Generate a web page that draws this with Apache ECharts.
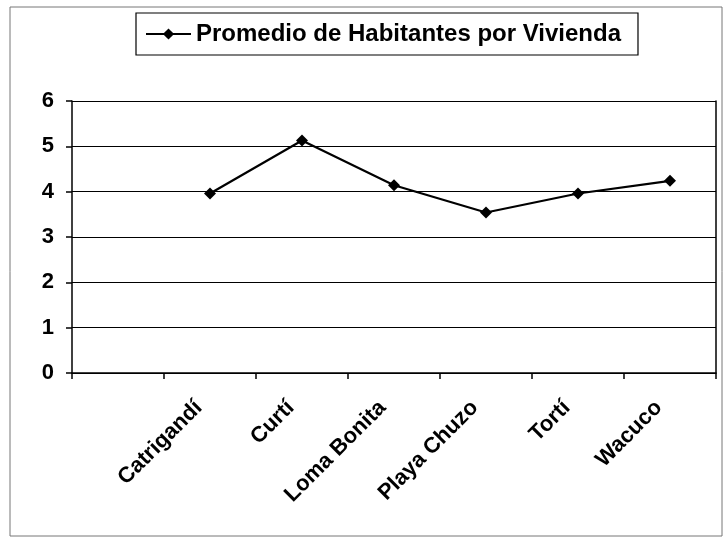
<!DOCTYPE html>
<html>
<head>
<meta charset="utf-8">
<script src="https://cdn.jsdelivr.net/npm/echarts@6/dist/echarts.min.js"></script>
<style>
  html, body { margin: 0; padding: 0; background: #fff; }
  #chart { width: 725px; height: 543px; }
</style>
</head>
<body>
<div id="chart"></div>
<script>
// primera categoría vacía, como en el original
const categories = ['', 'Catrigandí', 'Curtí', 'Loma Bonita', 'Playa Chuzo', 'Tortí', 'Wacuco'];
const promedio = [null, 3.96, 5.13, 4.14, 3.54, 3.96, 4.24];
const yTicks = [0, 1, 2, 3, 4, 5, 6];
const serieNombre = 'Promedio de Habitantes por Vivienda';

const chart = echarts.init(document.getElementById('chart'));
const font = 'Liberation Sans, Arial, sans-serif';
const diamante = 'path://M0,5L3.5,0L7,5L3.5,10Z';

chart.setOption({
  backgroundColor: '#fff',
  animation: false,
  graphic: [{
    type: 'rect',
    shape: { x: 10, y: 7, width: 712, height: 529 },
    style: { fill: 'none', stroke: '#777', lineWidth: 1 }
  }],
  legend: {
    top: 13,
    left: 136,
    padding: [9, 17, 9, 9],
    borderColor: '#000',
    borderWidth: 1.2,
    itemWidth: 45,
    itemHeight: 14,
    textStyle: { fontFamily: font, fontSize: 24, fontWeight: 'bold', color: '#000' },
    data: [serieNombre]
  },
  grid: { left: 72, right: 9, top: 101, bottom: 170, containLabel: false },
  xAxis: {
    type: 'category',
    data: categories,
    boundaryGap: true,
    axisLine: { lineStyle: { color: '#000', width: 1.5 } },
    axisTick: { show: true, length: 6, lineStyle: { color: '#000', width: 1.5 } },
    axisLabel: {
      rotate: 45, margin: 20, color: '#000', padding: [0, 16, 0, 0],
      fontFamily: font, fontSize: 22, fontWeight: 'bold', interval: 0
    },
    splitLine: { show: false }
  },
  yAxis: [{
    type: 'value',
    min: yTicks[0],
    max: yTicks[yTicks.length - 1],
    interval: 1,
    axisLine: { show: true, lineStyle: { color: '#000', width: 1.5 } },
    axisTick: { show: true, length: 6, lineStyle: { color: '#000', width: 1.5 } },
    axisLabel: { margin: 18, color: '#000', fontFamily: font, fontSize: 22, fontWeight: 'bold' },
    splitLine: { lineStyle: { color: '#000', width: 1.2 } }
  }, {
    // borde derecho del área de trazado
    type: 'value',
    position: 'right',
    min: yTicks[0],
    max: yTicks[yTicks.length - 1],
    interval: 1,
    axisLine: { show: true, lineStyle: { color: '#000', width: 1.5 } },
    axisTick: { show: false },
    axisLabel: { show: false },
    splitLine: { show: false }
  }],
  series: [{
    name: serieNombre,
    type: 'line',
    data: promedio,
    connectNulls: false,
    symbol: diamante,
    symbolSize: 12,
    itemStyle: { color: '#000' },
    lineStyle: { color: '#000', width: 2.2 }
  }]
});
</script>
</body>
</html>
